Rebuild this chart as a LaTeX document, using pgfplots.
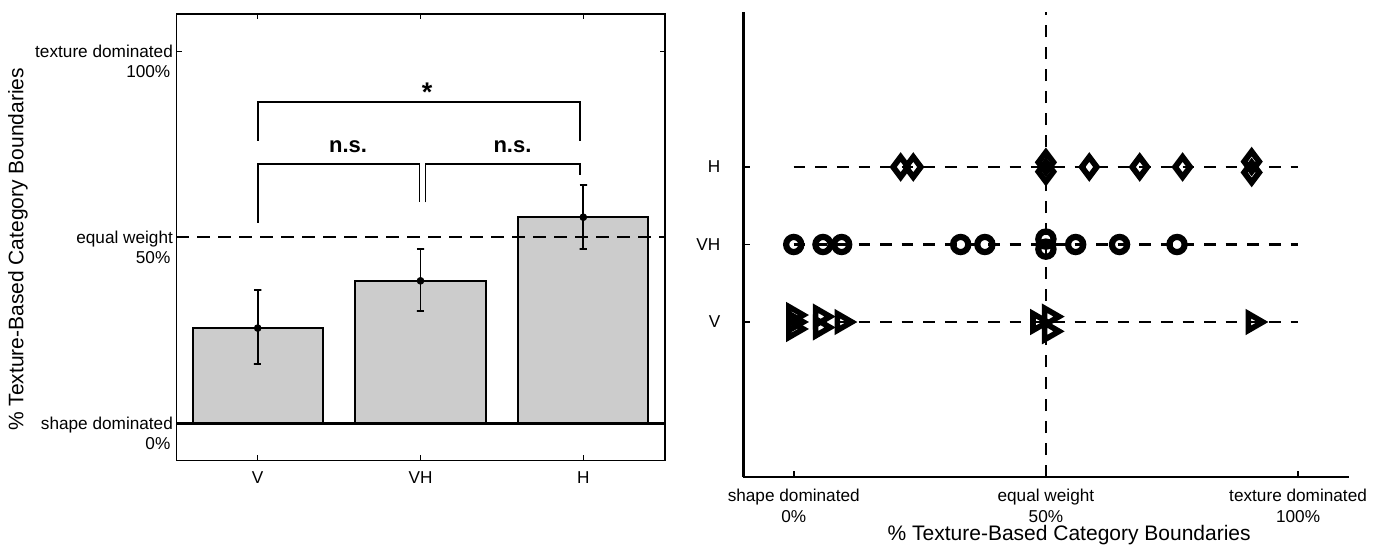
\documentclass[border=0pt]{standalone}
\usepackage{pgfplots}
\pgfplotsset{compat=1.18}
\usepackage{fontspec}
\setmainfont{Liberation Sans}
\definecolor{bargray}{RGB}{204,204,204}
\begin{document}
\begin{tikzpicture}
\useasboundingbox (0,0) rectangle (693pt,-273.5pt);
% ---------------- left panel ----------------
\begin{axis}[
  at={(88.15pt,-7.05pt)}, anchor=north west,
  scale only axis, width=244.2pt, height=223.2pt,
  xmin=0.5, xmax=3.5, ymin=-10, ymax=110,
  xtick={1,2,3}, xticklabels={V,VH,H},
  ytick={0,50,100},
  yticklabels={{shape dominated\\0\%\kern1.3pt},{equal weight\\50\%\kern1.3pt},{texture dominated\\100\%\kern1.3pt}},
  tick align=inside,
  major tick length=2.6pt,
  every tick/.style={black, line width=0.6pt},
  axis line style={line width=0.8pt},
  tick label style={font=\fontsize{8.6}{10}\selectfont},
  yticklabel style={align=right, anchor=east, yshift=-5pt, inner xsep=1.5pt},
  xticklabel style={yshift=-1.9pt},
  ylabel={\% Texture-Based Category Boundaries},
  ylabel style={at={(axis description cs:-0.324,0.473)}, anchor=center, font=\fontsize{10.5}{12}\selectfont},
  clip=false,
]
\addplot[ybar, bar width=0.8, fill=bargray, draw=black, line width=1pt] coordinates {(1,25.6) (2,38.3) (3,55.4)};
\addplot[black, line width=1.2pt] coordinates {(0.5,0) (3.5,0)};
\addplot[black, line width=1pt, dash pattern=on 6.5pt off 4pt] coordinates {(0.5,50) (3.5,50)};
% error bars (mean, upper, lower)
\addplot[black, line width=0.9pt] coordinates {(0.977,35.9) (1.023,35.9) (1,35.9) (1,15.9) (0.977,15.9) (1.023,15.9)};
\addplot[black, line width=0.9pt] coordinates {(1.977,46.9) (2.023,46.9) (2,46.9) (2,30.2) (1.977,30.2) (2.023,30.2)};
\addplot[black, line width=0.9pt] coordinates {(2.977,64.1) (3.023,64.1) (3,64.1) (3,46.9) (2.977,46.9) (3.023,46.9)};
\addplot[black, only marks, mark=*, mark size=1.7pt] coordinates {(1,25.6) (2,38.3) (3,55.4)};
% significance brackets
\addplot[black, line width=0.8pt] coordinates {(1,75.9) (1,86.4) (2.98,86.4) (2.98,75.9)};
\addplot[black, line width=0.8pt] coordinates {(1,53.9) (1,69.7) (1.993,69.7) (1.993,59.4)};
\addplot[black, line width=0.8pt] coordinates {(2.03,59.4) (2.03,69.7) (2.98,69.7) (2.98,66.7)};
\node[anchor=base, font=\bfseries\fontsize{11}{12}\selectfont] at (axis cs:1.555,72.8) {n.s.};
\node[anchor=base, font=\bfseries\fontsize{11}{12}\selectfont] at (axis cs:2.565,72.8) {n.s.};
\node[anchor=base, inner sep=0pt, font=\bfseries\fontsize{13.5}{14}\selectfont] at (axis cs:2.04,86.4) {*};
\end{axis}
% ---------------- right panel ----------------
\begin{axis}[
  at={(371.65pt,-6pt)}, anchor=north west,
  scale only axis, width=302.6pt, height=232.5pt,
  xmin=-10, xmax=110, ymin=-1, ymax=5,
  axis x line=bottom, axis y line=left,
  axis line style={line width=1.3pt, -},
  xtick={0,50,100},
  xticklabels={{shape dominated\\0\%},{equal weight\\50\%},{texture dominated\\100\%}},
  ytick={1,2,3}, yticklabels={V,VH,H},
  tick align=inside, major tick length=3.2pt,
  every tick/.style={black, line width=0.8pt},
  tick label style={font=\fontsize{8.6}{10.5}\selectfont},
  xticklabel style={align=center, yshift=-2.5pt},
  yticklabel style={xshift=-8pt},
  xlabel={\% Texture-Based Category Boundaries},
  xlabel style={at={(axis description cs:0.5385,0)}, anchor=center, yshift=-29.2pt, font=\fontsize{10.5}{12}\selectfont},
  clip=false,
]
\addplot[black, line width=1.4pt, dash pattern=on 5.8pt off 5pt] coordinates {(0,3) (100,3)};
\addplot[black, line width=1.4pt, dash pattern=on 5.8pt off 5pt] coordinates {(0,2) (100,2)};
\addplot[black, line width=1.4pt, dash pattern=on 5.8pt off 5pt] coordinates {(0,1) (100,1)};
\addplot[black, line width=1.4pt, dash pattern=on 6pt off 5pt] coordinates {(50,-1) (50,5)};
% H
\addplot[black, only marks, mark=diamond, mark size=5pt, mark options={line width=2.9pt, fill=none, solid}]
  coordinates {(21.2,3) (23.7,3) (50,3.06) (50,2.94) (58.6,3) (68.6,3) (77.1,3) (90.8,3.07) (90.8,2.93)};
% VH
\addplot[black, only marks, mark=o, mark size=3.8pt, mark options={line width=3.1pt, fill=none, solid}]
  coordinates {(0,2) (5.8,2) (9.5,2) (33.1,2) (37.9,2) (50,2.07) (50,1.94) (55.9,2) (64.6,2) (76.0,2)};
% V
\addplot[black, only marks, mark=triangle, mark size=4.8pt, mark options={rotate=-90, line width=2.8pt, fill=none, solid}]
  coordinates {(0,0.91) (0,1.0) (0,1.09) (5.3,1.07) (5.3,0.93) (9.6,1) (48.4,1) (50.7,1.07) (50.7,0.88) (91.1,1)};
\end{axis}
\end{tikzpicture}
\end{document}
